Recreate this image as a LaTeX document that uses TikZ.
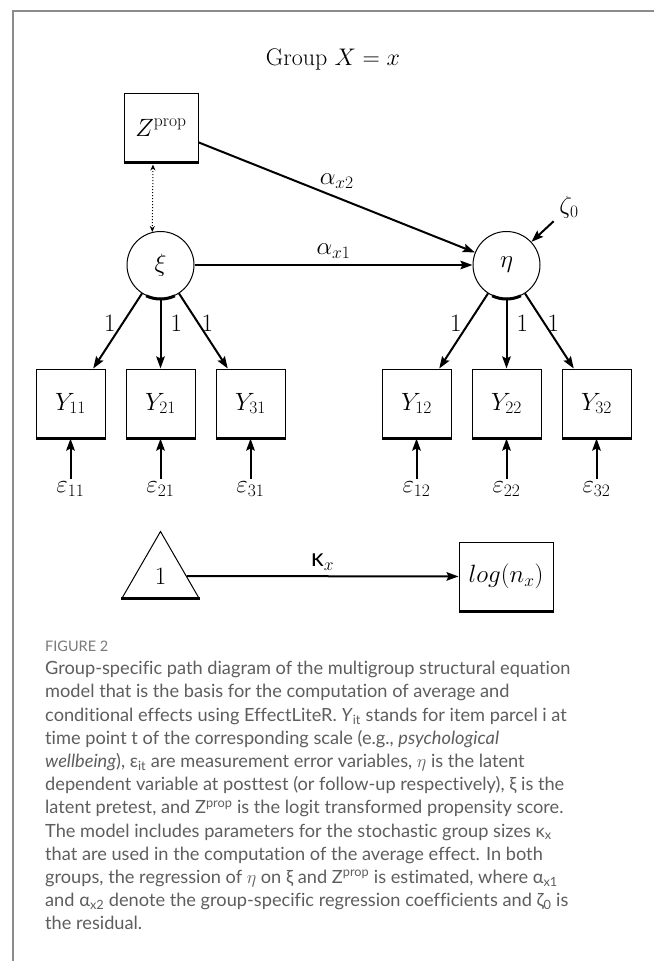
\RequirePackage{fix-cm}
\documentclass[tikz,border=0pt]{standalone}
\usepackage{fontspec}
\usepackage{tikz}
\usetikzlibrary{arrows.meta, positioning, shapes.geometric}
\newfontfamily\capfont[Ligatures={NoCommon}]{Lato}
\definecolor{framecolor}{HTML}{8C8C8C}
\definecolor{captioncolor}{HTML}{5E5E5E}
\definecolor{labelcolor}{HTML}{7A7A7A}

\begin{document}
\begin{tikzpicture}[x=1pt, y=1pt,
    every node/.style={font=\fontsize{25}{30}\selectfont},
    node distance=21pt and 20pt,
    box/.style={draw, line width=1pt, minimum width=69pt, minimum height=69pt, inner sep=0pt},
    latent/.style={draw, circle, line width=1pt, minimum size=67pt, inner sep=0pt},
    unit/.style={draw, regular polygon, regular polygon sides=3, line width=1pt,
                 minimum size=89pt, inner sep=0pt},
    heavyedge/.style={line width=3pt},
    arr/.style={-{Stealth[length=12pt, width=8.5pt, inset=2pt]}, line width=2pt},
    darr/.style={{Stealth[length=6pt, width=5pt]}-{Stealth[length=6pt, width=5pt]},
                 line width=1pt, dotted, shorten <=2pt},
    lab/.style={inner sep=2pt}
]
    \fill[white] (0,0) rectangle (654,-961);
    \useasboundingbox (0,0) rectangle (654,-961);
    \draw[framecolor, line width=2pt] (654,-11) -- (13,-11) -- (13,-961);

    \node[font=\fontsize{24}{29}\selectfont] (title) at (333,-59) {Group $X=x$};

    % structural part
    \node[box, minimum width=74pt] (zprop) at (161,-127.5) {$Z^{\mathrm{prop}}$};
    \node[latent] (xi)  at (160.5,-265) {$\xi$};
    \node[latent] (eta) at (506.5,-265) {$\eta$};
    \node (zeta) at (569,-207) {$\zeta_0$};

    % indicators
    \node[box] (y11) at (70.5,-403.5) {$Y_{11}$};
    \node[box, right=of y11] (y21) {$Y_{21}$};
    \node[box, right=of y21] (y31) {$Y_{31}$};
    \node[box] (y12) at (416.5,-403.5) {$Y_{12}$};
    \node[box, right=of y12] (y22) {$Y_{22}$};
    \node[box, right=of y22] (y32) {$Y_{32}$};
    \foreach \n in {11,21,31,12,22,32}
        \node[below=40pt of y\n] (e\n) {$\varepsilon_{\n}$};

    % group size part
    \node[unit] (tri) at (160.5,-576) {1};
    \node[box, minimum width=94pt] (logn) at (506,-576.5) {$log(n_x)$};

    \foreach \n in {zprop,y11,y21,y31,y12,y22,y32,logn}
        \draw[heavyedge] (\n.south west) -- (\n.south east);
    \foreach \n in {xi,eta}
        \draw[heavyedge] (\n.245) arc[start angle=245, end angle=295, radius=34pt];
    \draw[heavyedge] (tri.corner 2) -- (tri.corner 3);

    \draw[darr] ([xshift=-8pt]zprop.south) -- (xi.104);
    \draw[arr] (zprop) -- node[above=6pt, lab] {$\alpha_{x2}$} (eta);
    \draw[arr] (xi)    -- node[above=4pt, lab] {$\alpha_{x1}$} (eta);
    \draw[arr, shorten <=3pt] (zeta) -- (eta);

    \draw[arr] (xi)  -- node[pos=0.4, left=4pt, lab]   {1} (y11);
    \draw[arr] (xi)  -- node[pos=0.35, right=7pt, lab] {1} (y21);
    \draw[arr] (xi)  -- node[pos=0.4, right, lab]      {1} (y31);
    \draw[arr] (eta) -- node[pos=0.4, left=4pt, lab]   {1} (y12);
    \draw[arr] (eta) -- node[pos=0.35, right=7pt, lab] {1} (y22);
    \draw[arr] (eta) -- node[pos=0.4, right, lab]      {1} (y32);
    \foreach \n in {11,21,31,12,22,32}
        \draw[arr] (e\n) -- (y\n);

    \draw[arr] (tri) -- node[above=3pt, lab] {{\capfont κ}$_x$} (logn);

    % caption
    \node[anchor=north west, inner sep=0pt, text=labelcolor,
          font=\capfont\fontsize{14.5}{17}\selectfont] (figlabel) at (45,-641) {FIGURE 2};
    \node[anchor=north west, inner sep=0pt, align=left, text=captioncolor,
          font=\capfont\fontsize{18.2}{23.2}\selectfont] (caption) at (45,-661)
        {Group-specific path diagram of the multigroup structural equation\\
         model that is the basis for the computation of average and\\
         conditional effects using EffectLiteR. \textit{Y}\textsubscript{it} stands for item parcel i at\\
         time point t of the corresponding scale (e.g., \textit{psychological}\\
         \textit{wellbeing}), ε\textsubscript{it} are measurement error variables, $\eta$ is the latent\\
         dependent variable at posttest (or follow-up respectively), ξ is the\\
         latent pretest, and Z\textsuperscript{prop} is the logit transformed propensity score.\\
         The model includes parameters for the stochastic group sizes κ\textsubscript{x}\\
         that are used in the computation of the average effect. In both\\
         groups, the regression of $\eta$ on ξ and Z\textsuperscript{prop} is estimated, where α\textsubscript{x1}\\
         and α\textsubscript{x2} denote the group-specific regression coefficients and ζ\textsubscript{0} is\\
         the residual.};
\end{tikzpicture}
\end{document}
